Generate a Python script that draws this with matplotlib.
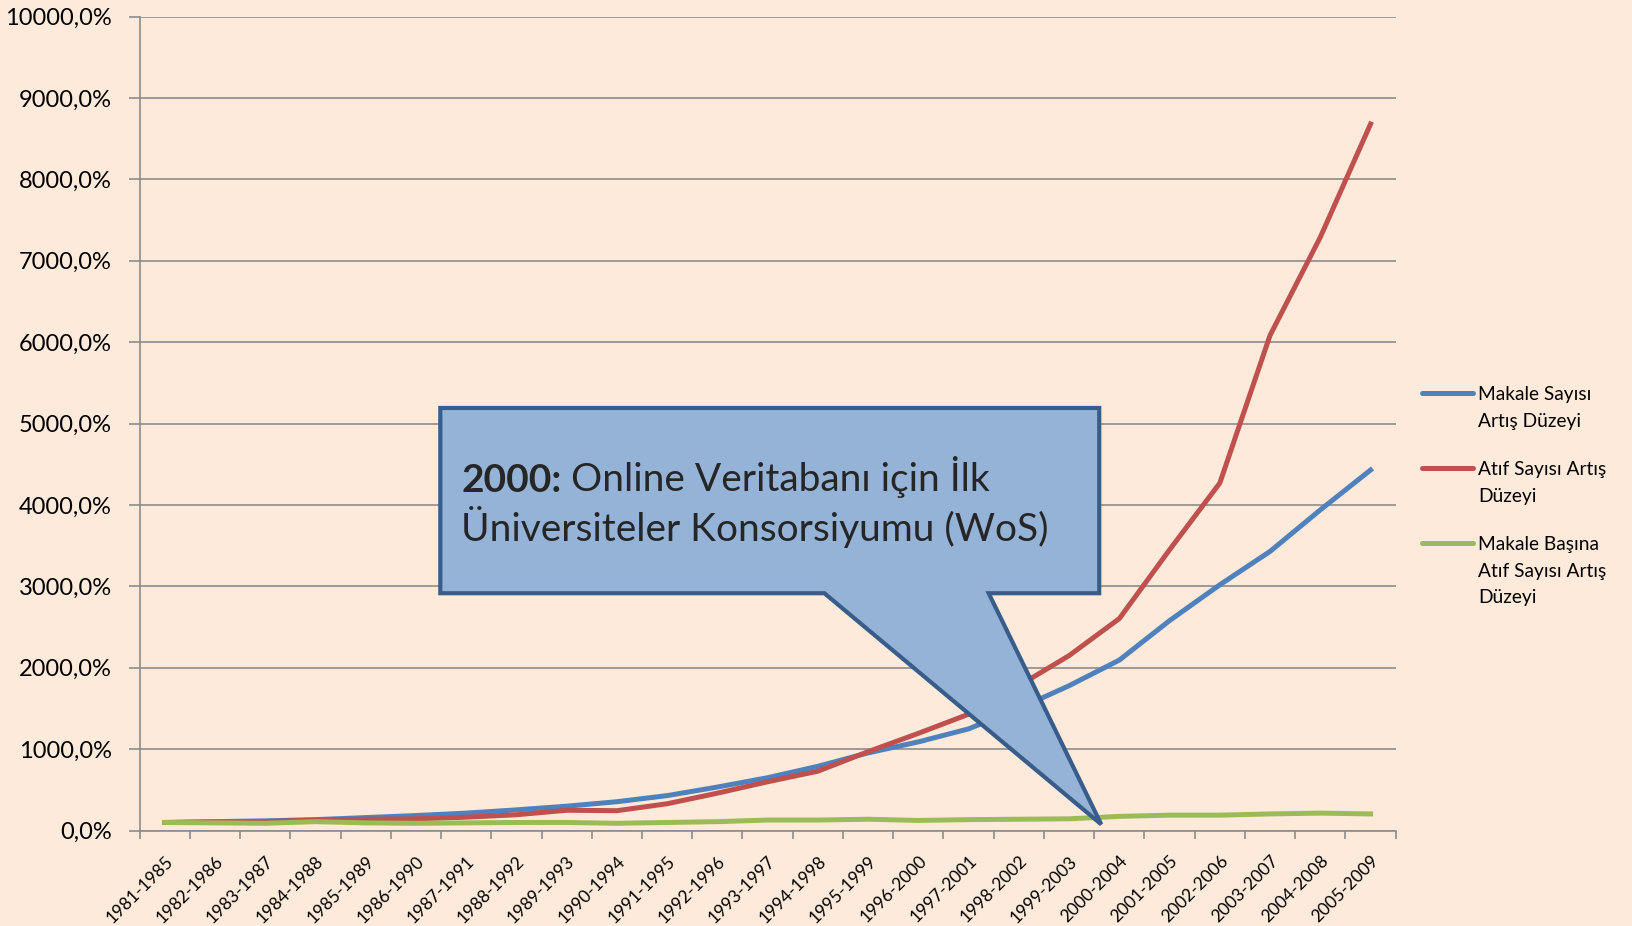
import matplotlib
matplotlib.use("Agg")
import matplotlib.pyplot as plt
import numpy as np
from matplotlib.patches import Polygon
from matplotlib.lines import Line2D

plt.rcParams['font.family'] = ['Lato', 'DejaVu Sans']

periods = ['1981-1985', '1982-1986', '1983-1987', '1984-1988', '1985-1989', '1986-1990',
           '1987-1991', '1988-1992', '1989-1993', '1990-1994', '1991-1995', '1992-1996',
           '1993-1997', '1994-1998', '1995-1999', '1996-2000', '1997-2001', '1998-2002',
           '1999-2003', '2000-2004', '2001-2005', '2002-2006', '2003-2007', '2004-2008',
           '2005-2009']

makale = [100, 110, 120, 135, 160, 185, 215, 255, 300, 355, 430, 535, 650, 790, 955,
          1090, 1250, 1500, 1780, 2095, 2580, 3020, 3430, 3940, 4430]
atif = [100, 105, 110, 130, 140, 145, 165, 195, 250, 245, 330, 460, 600, 730, 970,
        1195, 1430, 1780, 2150, 2605, 3450, 4270, 6085, 7290, 8680]
atif_per_makale = [100, 95, 90, 110, 95, 90, 95, 100, 100, 90, 100, 110, 130, 130, 140,
                   125, 135, 140, 145, 175, 190, 190, 205, 215, 205]

series_labels = ['Makale Sayısı\nArtış Düzeyi', 'Atıf Sayısı Artış\nDüzeyi',
                 'Makale Başına\nAtıf Sayısı Artış\nDüzeyi']
colors = ['#4F81BD', '#C0504D', '#9BBB59']
yticks = list(range(0, 10001, 1000))

bg = '#FDEADA'
grid_c = '#8C8C8C'

fig = plt.figure(figsize=(16.32, 9.26), dpi=100, facecolor=bg)
ax = fig.add_axes([0.0855, 0.1030, 0.7697, 0.8791])
ax.set_facecolor(bg)

x = np.arange(len(periods))
for vals, c in zip([makale, atif, atif_per_makale], colors):
    ax.plot(x, vals, color=c, lw=3.6, solid_joinstyle='round', zorder=3)

ax.set_xlim(-0.5, len(periods) - 0.5)
ax.set_ylim(0, 10000)

ax.set_yticks(yticks)
ax.set_yticklabels([f"{v},0%" for v in yticks], fontsize=17)
ax.tick_params(axis='y', length=8, width=1.2, color=grid_c, pad=12)
ax.yaxis.grid(True, color=grid_c, lw=1.2)
ax.set_axisbelow(True)

ax.set_xticks(x)
ax.set_xticklabels(periods, rotation=45, ha='right', rotation_mode='anchor', fontsize=12.5)
ax.set_xticks(np.arange(-0.5, len(periods)), minor=True)
ax.tick_params(axis='x', which='major', length=0, pad=16)
ax.tick_params(axis='x', which='minor', length=6, width=1.2, color=grid_c)

for s in ['top', 'right']:
    ax.spines[s].set_visible(False)
for s in ['left', 'bottom']:
    ax.spines[s].set_color(grid_c)
    ax.spines[s].set_linewidth(1.2)

# callout
callout = [(5.486, 5192), (18.60, 5192), (18.60, 2916), (16.40, 2916),
           (18.64, 77), (13.13, 2916), (5.486, 2916)]
ax.add_patch(Polygon(callout, closed=True, facecolor='#95B3D7', edgecolor='#385D8A',
                     lw=3, joinstyle='miter', zorder=5, clip_on=False))
t1 = ax.text(5.9, 4160, "2000:", fontsize=28, fontweight='bold', color='#262626',
             va='baseline', ha='left', zorder=6)
ax.annotate(" Online Veritabanı için İlk", xy=(1, 0), xycoords=t1, fontsize=28,
            color='#262626', va='bottom', ha='left', zorder=6)
ax.text(5.9, 3558, "Üniversiteler Konsorsiyumu (WoS)", fontsize=28, color='#262626',
        va='baseline', ha='left', zorder=6)

# legend
W, H = 1632, 926
entry_y = [393, 468, 543]
for lab, c, yy in zip(series_labels, colors, entry_y):
    fig.add_artist(Line2D([1422 / W, 1473 / W], [1 - yy / H, 1 - yy / H], color=c,
                          lw=3.6, solid_capstyle='round'))
    for i, line in enumerate(lab.split('\n')):
        fig.text(1478 / W, 1 - (yy + 7 + i * 26.5) / H, line, fontsize=13.8,
                 va='baseline', ha='left', color='black')

fig.savefig('out.png', dpi=100, facecolor=bg)
